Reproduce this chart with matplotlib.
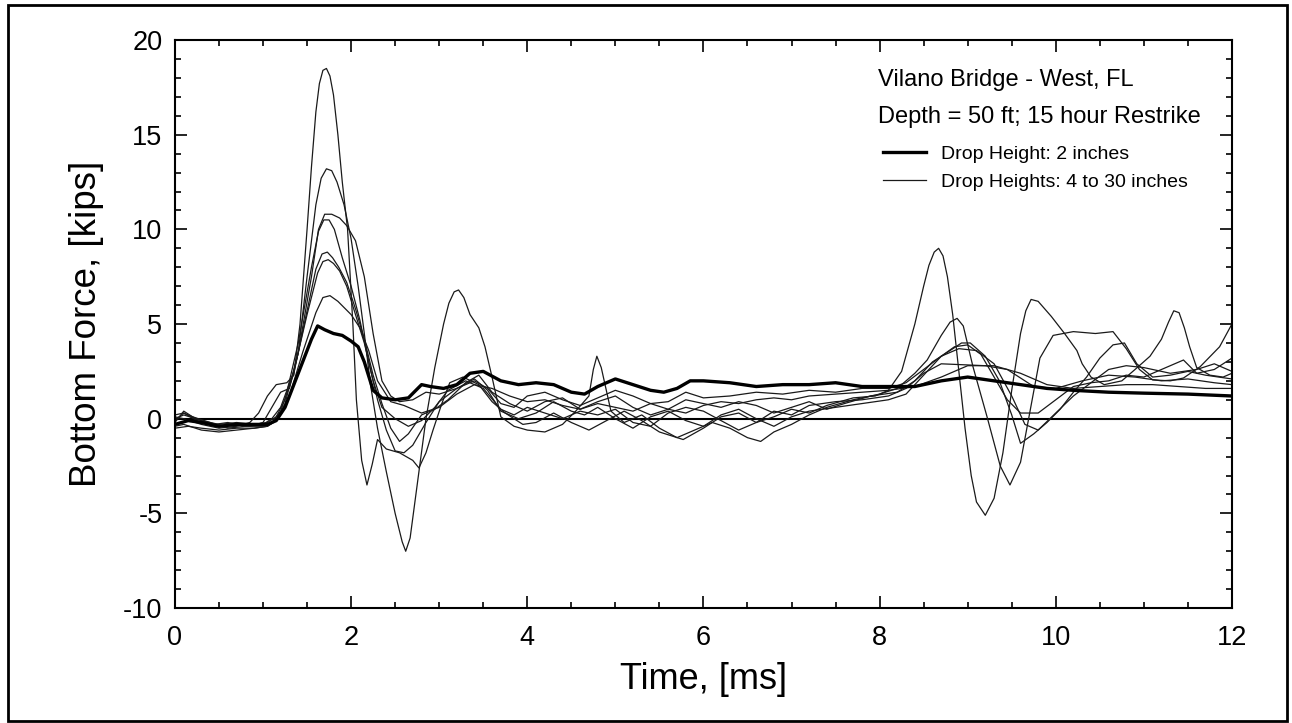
import matplotlib
matplotlib.use("Agg")
import matplotlib.pyplot as plt
from matplotlib.ticker import MultipleLocator
from matplotlib.patches import Rectangle

plt.rcParams['font.family'] = ['Liberation Sans', 'DejaVu Sans']
plt.rcParams['axes.unicode_minus'] = False

# Drop height 2 inches (thick line)
t_2in = [0.0, 0.15, 0.3, 0.5, 0.7, 0.9, 1.05, 1.15, 1.25, 1.35, 1.45, 1.55, 1.62, 1.7, 1.8, 1.9,
         2.0, 2.08, 2.15, 2.25, 2.35, 2.5, 2.65, 2.8, 2.9, 3.05, 3.2, 3.35, 3.5, 3.7, 3.9, 4.1,
         4.3, 4.5, 4.65, 4.8, 5.0, 5.2, 5.4, 5.55, 5.7, 5.85, 6.0, 6.3, 6.6, 6.9, 7.2, 7.5,
         7.8, 8.1, 8.4, 8.7, 9.0, 9.3, 9.6, 9.9, 10.2, 10.6, 11.0, 11.5, 12.0]
f_2in = [-0.3, -0.1, -0.2, -0.4, -0.3, -0.3, -0.3, -0.1, 0.6, 1.8, 3.0, 4.2, 4.9, 4.7, 4.5, 4.4,
         4.1, 3.8, 3.0, 1.5, 1.1, 1.0, 1.1, 1.8, 1.7, 1.6, 1.8, 2.4, 2.5, 2.0, 1.8, 1.9,
         1.8, 1.4, 1.3, 1.7, 2.1, 1.8, 1.5, 1.4, 1.6, 2.0, 2.0, 1.9, 1.7, 1.8, 1.8, 1.9,
         1.7, 1.7, 1.7, 2.0, 2.2, 2.0, 1.8, 1.6, 1.5, 1.4, 1.35, 1.3, 1.2]

# Drop heights 4 to 30 inches (thin lines): (time, force) pairs per record
t_a = [0.0, 0.15, 0.3, 0.5, 0.7, 0.9, 1.05, 1.15, 1.3, 1.45, 1.6, 1.68, 1.76, 1.85, 2.0, 2.1, 2.2,
       2.3, 2.45, 2.6, 2.8, 3.0, 3.2, 3.4, 3.6, 3.8, 4.0, 4.2, 4.4, 4.6, 4.8, 5.0, 5.2,
       5.4, 5.6, 5.8, 6.0, 6.2, 6.4, 6.6, 6.8, 7.0, 7.2, 7.5, 7.8, 8.1, 8.4, 8.7, 9.0,
       9.3, 9.6, 9.9, 10.2, 10.5, 10.8, 11.1, 11.4, 11.7, 12.0]
f_a = [-0.5, -0.4, -0.5, -0.6, -0.5, -0.5, -0.4, -0.1, 1.2, 3.5, 5.6, 6.4, 6.5, 6.2, 5.5, 4.8, 3.6,
       2.0, 0.9, 0.7, 0.3, 0.6, 1.3, 1.8, 1.6, 1.2, 0.9, 1.0, 0.7, 0.5, 0.8, 0.6, 0.4,
       0.8, 0.5, 0.3, 0.7, 0.9, 0.8, 1.0, 1.1, 1.0, 1.2, 1.3, 1.4, 1.5, 1.7, 2.2, 2.8,
       2.8, 2.4, 1.8, 1.6, 1.7, 1.8, 1.8, 1.7, 1.6, 1.6]

t_b = [0.0, 0.1, 0.2, 0.4, 0.6, 0.8, 1.0, 1.1, 1.2, 1.35, 1.5, 1.62, 1.68, 1.74, 1.8, 1.87, 1.95, 2.05,
       2.15, 2.25, 2.35, 2.5, 2.65, 2.8, 2.95, 3.1, 3.3, 3.5, 3.7, 3.85, 4.0, 4.2, 4.4, 4.6,
       4.8, 5.0, 5.2, 5.4, 5.6, 5.8, 6.0, 6.2, 6.4, 6.6, 6.8, 7.0, 7.2, 7.5, 7.8, 8.1,
       8.3, 8.5, 8.7, 8.95, 9.2, 9.45, 9.75, 10.0, 10.3, 10.6, 10.9, 11.2, 11.5, 11.8, 12.0]
f_b = [-0.2, 0.4, 0.1, -0.2, -0.5, -0.4, -0.3, 0.0, 0.6, 2.5, 5.5, 7.7, 8.3, 8.4, 8.2, 7.8, 7.0, 5.5,
       4.0, 2.0, 0.6, 0.0, -0.4, -0.1, 0.6, 1.5, 2.0, 1.6, 0.5, 0.2, 0.6, 0.3, 0.0, 0.4,
       0.2, 0.5, -0.2, -0.4, 0.3, 0.6, 0.4, -0.1, -0.6, -0.2, 0.4, 0.2, 0.7, 0.9, 1.0, 1.2,
       1.6, 2.4, 2.9, 2.85, 2.8, 2.6, 1.7, 1.6, 2.0, 2.3, 2.2, 2.0, 2.1, 1.9, 1.8]

t_c = [0.0, 0.1, 0.25, 0.45, 0.6, 0.8, 1.0, 1.1, 1.2, 1.35, 1.5, 1.6, 1.67, 1.73, 1.79, 1.86, 1.95, 2.05,
       2.15, 2.25, 2.35, 2.45, 2.55, 2.65, 2.8, 2.95, 3.1, 3.3, 3.45, 3.6, 3.8, 4.0, 4.2, 4.4,
       4.6, 4.8, 5.0, 5.2, 5.4, 5.6, 5.8, 6.0, 6.2, 6.4, 6.6, 6.8, 7.0, 7.2, 7.4, 7.6,
       7.9, 8.2, 8.4, 8.6, 8.8, 8.93, 9.03, 9.2, 9.36, 9.5, 9.6, 9.75, 9.9, 10.05, 10.2, 10.35, 10.5,
       10.65, 10.78, 10.92, 11.1, 11.3, 11.5, 11.7, 12.0]
f_c = [0.2, 0.3, -0.1, -0.3, -0.2, -0.4, -0.4, -0.2, 0.4, 2.4, 5.7, 7.9, 8.7, 8.8, 8.5, 8.0, 7.2, 5.8,
       4.2, 2.3, 0.8, -0.5, -1.2, -0.8, 0.2, 0.5, 1.0, 1.9, 2.3, 1.4, 0.8, 0.4, 0.9, 1.1,
       0.5, 0.9, 1.2, 0.6, 0.2, 0.5, 1.0, 0.8, 0.6, 0.9, 0.7, 0.3, 0.6, 0.9, 0.5, 0.8,
       1.2, 1.4, 2.0, 3.0, 3.6, 4.0, 4.0, 3.3, 2.0, 0.2, -1.3, -0.8, -0.2, 0.5, 1.4, 2.2, 3.2,
       3.9, 4.0, 2.9, 2.2, 2.3, 2.5, 2.3, 2.1]

t_d = [0.0, 0.1, 0.3, 0.5, 0.7, 0.9, 1.05, 1.15, 1.25, 1.4, 1.55, 1.63, 1.7, 1.78, 1.87, 1.95, 2.05,
       2.15, 2.25, 2.35, 2.45, 2.55, 2.7, 2.85, 3.0, 3.2, 3.4, 3.55, 3.7, 3.85, 4.0, 4.2, 4.4,
       4.6, 4.8, 5.0, 5.2, 5.4, 5.6, 5.8, 6.0, 6.3, 6.6, 6.9, 7.2, 7.5, 7.8, 8.1, 8.3,
       8.5, 8.7, 8.9, 9.1, 9.3, 9.5, 9.65, 9.8, 10.0, 10.2, 10.4, 10.6, 10.8, 11.0, 11.3, 11.6,
       11.8, 12.0]
f_d = [-0.4, -0.3, -0.6, -0.7, -0.6, -0.5, -0.4, -0.1, 0.8, 3.5, 7.5, 10.0, 10.8, 10.8, 10.6, 10.2, 9.4,
       7.5, 4.5, 2.0, 1.2, 0.9, 1.0, 1.4, 1.3, 1.6, 2.0, 1.6, 0.8, 0.6, 1.2, 1.4, 1.0,
       0.7, 1.1, 1.5, 1.2, 0.8, 0.9, 1.4, 1.1, 1.2, 1.4, 1.3, 1.5, 1.4, 1.6, 1.6, 1.9,
       2.6, 3.3, 3.7, 3.6, 2.9, 1.2, -0.3, -0.6, 0.3, 1.2, 1.9, 2.6, 2.8, 2.7, 2.4, 2.6,
       2.9, 2.5]

t_e = [0.0, 0.1, 0.3, 0.5, 0.7, 0.9, 1.05, 1.15, 1.25, 1.4, 1.55, 1.63, 1.69, 1.75, 1.81, 1.9, 2.0,
       2.1, 2.2, 2.3, 2.4, 2.5, 2.6, 2.7, 2.85, 3.0, 3.2, 3.4, 3.55, 3.7, 3.9, 4.1, 4.3,
       4.5, 4.65, 4.8, 5.0, 5.2, 5.4, 5.6, 5.8, 6.0, 6.2, 6.4, 6.6, 6.8, 7.0, 7.2, 7.5,
       7.8, 8.1, 8.3, 8.5, 8.7, 8.85, 9.0, 9.15, 9.3, 9.45, 9.6, 9.8, 10.0, 10.2, 10.4, 10.6,
       10.8, 11.0, 11.2, 11.45, 11.6, 11.8, 12.0]
f_e = [0.0, 0.2, -0.1, -0.3, -0.2, -0.3, -0.2, 0.1, 1.0, 4.0, 8.0, 9.9, 10.5, 10.5, 10.0, 8.5, 7.0,
       5.2, 3.0, 1.0, -0.6, -1.7, -1.8, -1.4, -0.2, 0.9, 1.6, 2.1, 1.5, 0.4, 0.0, 0.3, 0.9,
       0.4, 0.2, 0.6, 0.0, -0.5, 0.1, 0.4, -0.1, -0.4, 0.2, 0.5, 0.0, -0.4, 0.1, 0.4, 0.6,
       0.8, 1.0, 1.3, 2.3, 3.3, 3.8, 3.9, 3.4, 2.2, 1.0, 0.3, 0.3, 1.0, 1.7, 1.9, 2.0,
       2.3, 2.2, 2.6, 3.1, 2.4, 2.6, 3.2]

t_f = [0.0, 0.1, 0.25, 0.45, 0.65, 0.85, 1.0, 1.1, 1.2, 1.3, 1.4, 1.5, 1.6, 1.66, 1.72, 1.78, 1.84, 1.92,
       2.0, 2.08, 2.15, 2.22, 2.3, 2.4, 2.5, 2.58, 2.62, 2.67, 2.75, 2.85, 2.95, 3.05, 3.11, 3.17, 3.22,
       3.28, 3.35, 3.45, 3.52, 3.6, 3.7, 3.85, 4.0, 4.2, 4.4, 4.55, 4.7, 4.75, 4.79, 4.84, 4.95, 5.1,
       5.3, 5.5, 5.7, 5.9, 6.1, 6.3, 6.5, 6.65, 6.8, 7.0, 7.2, 7.4, 7.7, 8.0, 8.2, 8.4,
       8.54, 8.7, 8.8, 8.88, 8.95, 9.06, 9.22, 9.37, 9.48, 9.6, 9.7, 9.82, 9.97, 10.2, 10.45, 10.65, 10.8,
       10.95, 11.1, 11.3, 11.45, 11.64, 11.86, 12.0]
f_f = [-0.1, 0.3, 0.0, -0.4, -0.3, -0.4, -0.2, 0.6, 1.4, 1.6, 3.5, 7.5, 11.3, 12.7, 13.2, 13.1, 12.5, 11.3,
       9.5, 7.0, 4.5, 1.8, -0.5, -2.8, -5.0, -6.5, -7.0, -6.3, -3.5, 0.0, 2.7, 5.0, 6.1, 6.7, 6.8,
       6.4, 5.5, 4.8, 3.8, 2.2, 0.1, -0.4, -0.6, -0.7, -0.3, 0.4, 1.2, 2.6, 3.3, 2.7, 0.4, -0.2,
       0.2, -0.5, -1.0, -0.6, -0.2, -0.5, -1.0, -1.2, -0.7, -0.3, 0.2, 0.6, 1.0, 1.3, 1.6, 2.4,
       3.1, 4.4, 5.1, 5.3, 4.9, 2.75, 0.1, -2.5, -3.5, -2.3, 0.2, 3.2, 4.4, 4.6, 4.5, 4.6, 3.7,
       2.6, 2.05, 2.0, 2.15, 2.75, 3.8, 5.0]

t_g = [0.0, 0.1, 0.3, 0.5, 0.7, 0.85, 0.95, 1.05, 1.15, 1.27, 1.35, 1.42, 1.5, 1.55, 1.6, 1.64, 1.68,
       1.72, 1.76, 1.8, 1.85, 1.9, 1.96, 2.02, 2.06, 2.12, 2.18, 2.24, 2.3, 2.4, 2.55, 2.7, 2.77, 2.85, 2.93,
       3.03, 3.12, 3.27, 3.45, 3.6, 3.75, 3.95, 4.1, 4.3, 4.5, 4.7, 4.9, 5.1, 5.3, 5.5, 5.77,
       6.0, 6.2, 6.4, 6.6, 6.8, 7.0, 7.2, 7.4, 7.7, 7.95, 8.1, 8.25, 8.4, 8.5, 8.56, 8.62, 8.67,
       8.72, 8.77, 8.83, 8.9, 8.97, 9.04, 9.1, 9.2, 9.3, 9.4, 9.5, 9.6, 9.66, 9.72, 9.8, 9.95, 10.1, 10.24,
       10.3, 10.4, 10.55, 10.75, 10.9, 11.07, 11.2, 11.28, 11.34, 11.4, 11.46, 11.52, 11.6, 11.75, 11.9, 12.0]
f_g = [0.1, 0.0, -0.3, -0.5, -0.4, -0.2, 0.3, 1.2, 1.8, 1.9, 2.3, 5.0, 10.0, 13.3, 16.2, 17.7, 18.4,
       18.5, 18.1, 17.1, 15.0, 12.5, 10.0, 5.0, 1.0, -2.2, -3.5, -2.4, -1.1, -1.6, -1.8, -2.2, -2.6, -1.8, -0.6,
       0.8, 1.9, 2.2, 1.8, 0.9, 0.3, -0.3, -0.2, 0.3, -0.2, -0.6, -0.1, 0.4, -0.1, -0.7, -1.1,
       -0.5, 0.1, 0.3, -0.2, 0.1, 0.5, 0.3, 0.7, 1.1, 1.2, 1.5, 2.5, 5.0, 7.0, 8.1, 8.8, 9.0,
       8.6, 7.5, 5.5, 2.5, -0.5, -3.0, -4.4, -5.1, -4.2, -1.8, 1.5, 4.5, 5.7, 6.3, 6.2, 5.4, 4.5, 3.6,
       2.9, 2.2, 1.8, 2.0, 2.6, 3.3, 4.2, 5.1, 5.7, 5.6, 4.8, 3.8, 2.7, 2.3, 2.2, 2.4]

thin_records = [(t_a, f_a), (t_b, f_b), (t_c, f_c), (t_d, f_d), (t_e, f_e), (t_f, f_f), (t_g, f_g)]

fig = plt.figure(figsize=(12.92, 7.23), dpi=100)
ax = fig.add_axes([0.1354, 0.159, 0.8181, 0.7856])

# outer frame around the whole figure
fig.patches.append(Rectangle((0.006, 0.003), 0.99, 0.99, transform=fig.transFigure,
                             fill=False, edgecolor='black', linewidth=2))

ax.axhline(0, color='black', linewidth=1.5, zorder=1)
for i, (tt, ff) in enumerate(thin_records):
    ax.plot(tt, ff, color='#1a1a1a', linewidth=0.9,
            label='Drop Heights: 4 to 30 inches' if i == 0 else None)
ax.plot(t_2in, f_2in, color='black', linewidth=2.4, label='Drop Height: 2 inches')

ax.set_xlim(0, 12)
ax.set_ylim(-10, 20)
ax.xaxis.set_major_locator(MultipleLocator(2))
ax.xaxis.set_minor_locator(MultipleLocator(0.5))
ax.yaxis.set_major_locator(MultipleLocator(5))
ax.yaxis.set_minor_locator(MultipleLocator(1))
ax.tick_params(which='both', direction='in', top=True, right=True, width=1.2, labelsize=19.5)
ax.tick_params(which='major', length=8.5)
ax.tick_params(which='minor', length=4.5)
ax.tick_params(axis='x', pad=12)
ax.tick_params(axis='y', pad=9)
for s in ax.spines.values():
    s.set_linewidth(1.5)

ax.set_xlabel('Time, [ms]', fontsize=26, labelpad=8)
ax.set_ylabel('Bottom Force, [kips]', fontsize=26.5, labelpad=14)

ax.text(0.665, 0.93, 'Vilano Bridge - West, FL', transform=ax.transAxes,
        fontsize=17, va='center', ha='left')
ax.text(0.665, 0.864, 'Depth = 50 ft; 15 hour Restrike', transform=ax.transAxes,
        fontsize=17, va='center', ha='left')
handles, labels = ax.get_legend_handles_labels()
ax.legend(handles[::-1], labels[::-1], loc='upper left', bbox_to_anchor=(0.67, 0.815),
          frameon=False, fontsize=14, borderpad=0, borderaxespad=0,
          handlelength=2.2, handletextpad=0.8, labelspacing=0.55)

fig.savefig('out.png', dpi=100)
